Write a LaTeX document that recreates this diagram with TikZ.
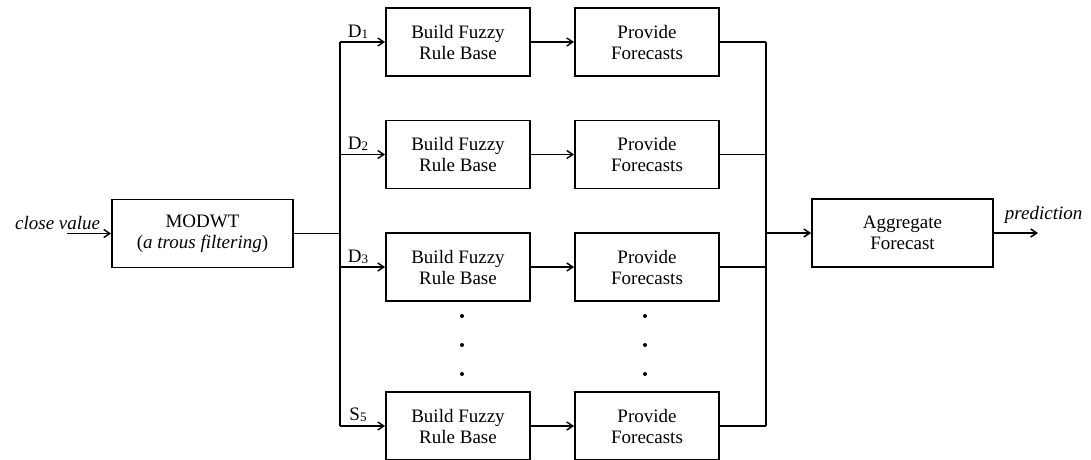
\documentclass[tikz,border=0pt]{standalone}
\usepackage{fontspec}
\setmainfont{Liberation Serif}
\usetikzlibrary{arrows.meta}
\newcommand{\sub}[1]{{\fontsize{13}{13}\selectfont\raisebox{-1.5pt}{#1}}}
\begin{document}
\begin{tikzpicture}[x=1pt,y=-1pt,
  line width=1.8pt,
  every node/.style={font=\fontsize{19}{21}\selectfont},
  blk/.style={draw, line width=1.8pt, align=center, inner sep=0pt,
    minimum width=#1, minimum height=68},
  blk/.default=144,
  flow/.style={-{Straight Barb[length=6pt,width=8pt,line width=1.5pt]}},
  lbl/.style={inner sep=0pt}]
\useasboundingbox (0,0) rectangle (1091,459);

% main blocks
\node[blk=181] (modwt) at (202.5,233.5) {MODWT\\(\textit{a trous filtering})};
\node[blk=181] (agg) at (902.5,233) {Aggregate\\Forecast};

% one build/provide pair per decomposition level
\foreach \n/\y in {1/42,2/154.5,3/267,5/426}{
  \node[blk] (b\n) at (458,\y) {Build Fuzzy\\Rule Base};
  \node[blk] (p\n) at (647,\y) {Provide\\Forecasts};
  \draw[flow] (b\n) -- (p\n);
}

% distribution bus
\coordinate (lbus) at (340,233.5);
\coordinate (rbus) at (766,233);
\draw (modwt.east) -- (lbus);
\draw (b1.west -| lbus) -- (b5.west -| lbus);
\foreach \n in {1,2,3,5}{
  \draw[flow] (b\n.west -| lbus) -- (b\n.west);
  \draw (p\n.east) -- (p\n.east -| rbus);
}
\draw (p1.east -| rbus) -- (p5.east -| rbus);
\draw[flow] (rbus) -- (agg.west);

% branch labels
\node[lbl] (l1) at (358,32) {D\sub{1}};
\node[lbl] (l2) at (358,144) {D\sub{2}};
\node[lbl] (l3) at (358,257) {D\sub{3}};
\node[lbl] (l5) at (358,415) {S\sub{5}};

% input and output
\coordinate (in) at (67,233.5);
\coordinate (out) at (1038,233);
\draw[flow] (in) -- (modwt.west);
\draw[flow] (agg.east) -- (out);
\node[lbl, anchor=east] (inl) at (101,223) {\textit{close value}};
\node[lbl, anchor=west] (outl) at (1004,215) {\textit{prediction}};

% ellipsis dots
\foreach \x in {462,645}{
  \foreach \y in {316,345,374}{
    \fill (\x,\y) circle (2pt);
  }
}
\end{tikzpicture}
\end{document}
